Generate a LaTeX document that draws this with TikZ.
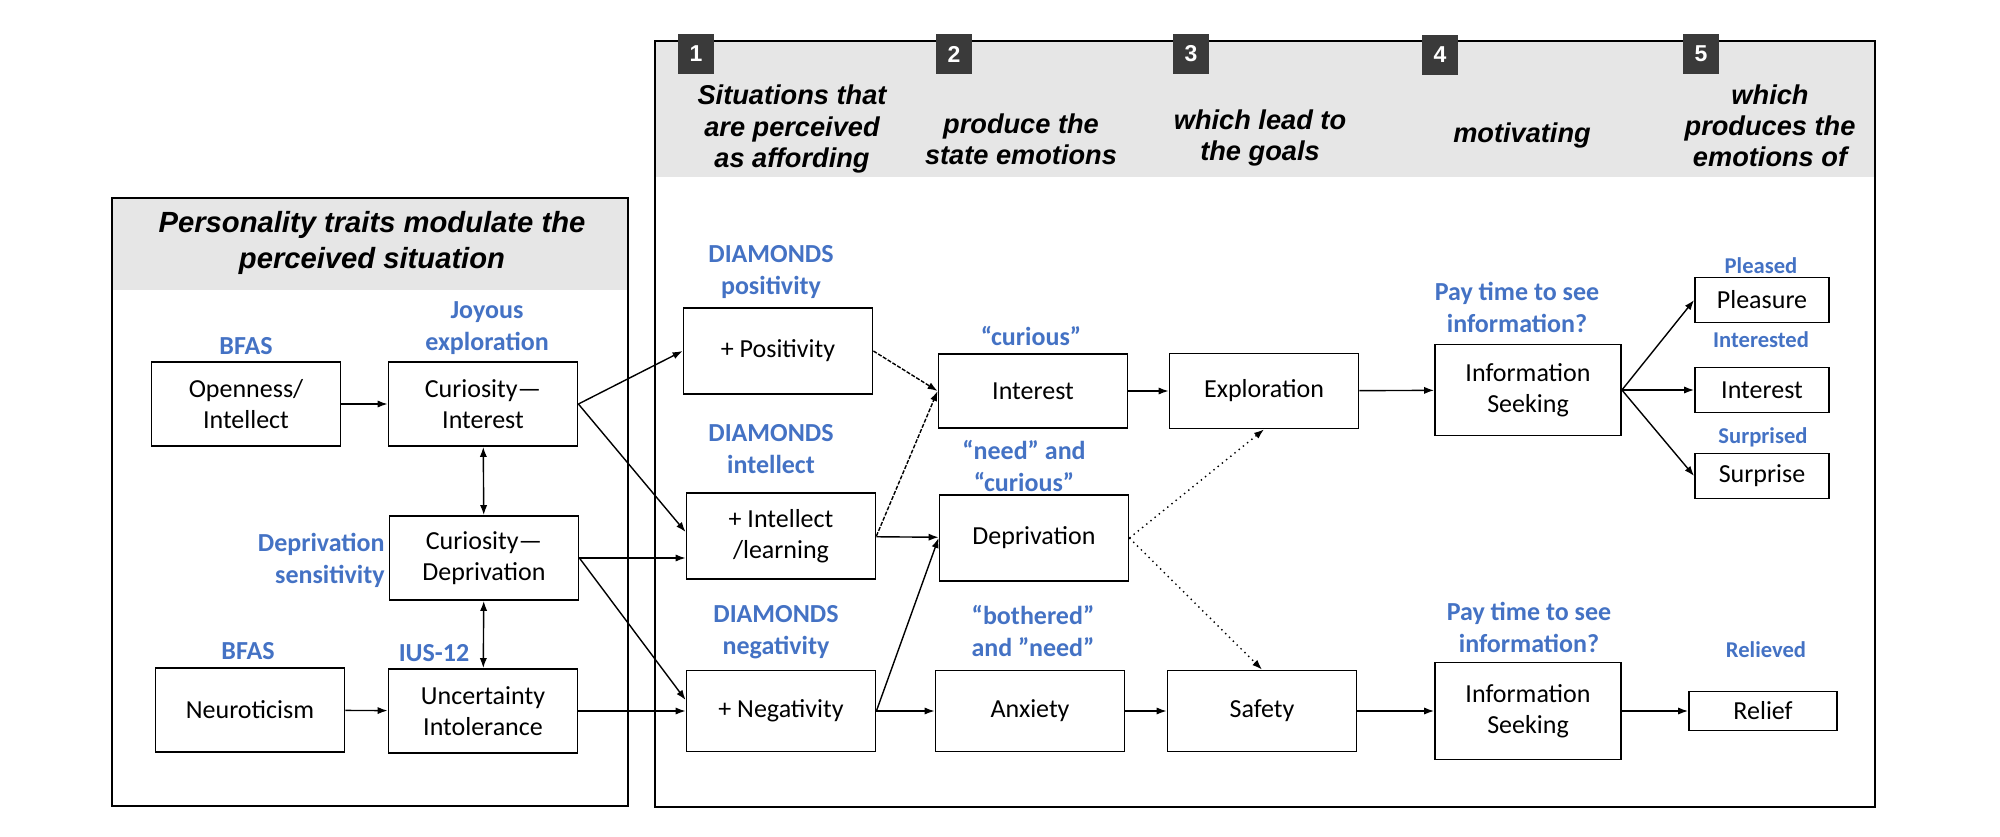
\documentclass[tikz,border=0pt]{standalone}
\usepackage{fontspec}
\setmainfont{Carlito}
\newfontfamily\headfont{Liberation Sans}
\usepackage{tikz}
\usetikzlibrary{arrows.meta, positioning, calc}
\definecolor{LabelBlue}{RGB}{68, 114, 196}
\definecolor{HeadGray}{RGB}{230, 230, 230}
\definecolor{BadgeGray}{RGB}{58, 58, 58}

\begin{document}
\begin{tikzpicture}[x=0.5pt, y=-0.5pt,
    box/.style={
      rectangle, draw=black, line width=0.9pt, fill=white,
      inner sep=0pt, minimum width=94.5pt, minimum height=42pt,
      align=center, font=\fontsize{13}{15.5}\selectfont
    },
    smallbox/.style={box, minimum width=67pt, minimum height=22.5pt},
    lbl/.style={text=LabelBlue, align=center, inner sep=0pt,
      font=\fontsize{13}{16}\selectfont\bfseries},
    smalllbl/.style={lbl, font=\fontsize{11.3}{13}\selectfont\bfseries},
    hd/.style={align=center, inner sep=0pt,
      font=\headfont\fontsize{13.6}{15.6}\selectfont\bfseries\itshape},
    badge/.style={rectangle, fill=BadgeGray, text=white, inner sep=0pt,
      minimum width=18pt, minimum height=20pt,
      font=\headfont\fontsize{11.5}{12}\selectfont\bfseries},
    panel/.style={draw=black, line width=0.9pt},
    arr/.style={-{Latex[length=5pt, width=3.6pt]}, line width=0.7pt},
    arrboth/.style={{Latex[length=5pt, width=3.6pt]}-{Latex[length=5pt, width=3.6pt]}, line width=0.7pt},
    dsh/.style={dash pattern=on 2pt off 0.8pt},
    dots/.style={dotted}
  ]
    \useasboundingbox (0,0) rectangle (2000,836);

    % left panel
    \fill[HeadGray] (112,198) rectangle (628,290);
    \draw[panel] (112,198) rectangle (628,806);
    \node[hd, font=\headfont\fontsize{14.6}{18}\selectfont\bfseries\itshape] (title) at (372,243)
      {Personality traits modulate the\\perceived situation};

    % right panel
    \fill[HeadGray] (655,41) rectangle (1875,177);
    \draw[panel] (655,41) rectangle (1875,807);

    \node[badge] (b1) at (696,54)  {1};
    \node[badge] (b2) at (954,54)  {2};
    \node[badge] (b3) at (1191,54) {3};
    \node[badge] (b4) at (1440,55) {4};
    \node[badge] (b5) at (1701,54) {5};

    \node[hd] (h1) at (792,129)  {Situations that\\are perceived\\as affording};
    \node[hd] (h2) at (1021,139) {produce the\\state emotions};
    \node[hd] (h3) at (1260,138) {which lead to\\the goals};
    \node[hd] (h4) at (1522,135) {motivating};
    \node[hd] (h5) at (1770,126) {which\\produces the\\emotions of};

    % traits
    \node[box] (open)   at (246,404) {Openness/\\Intellect};
    \node[box] (curint) at (483,404) {Curiosity—\\Interest};
    \node[box] (curdep) at (484,558) {Curiosity—\\Deprivation};
    \node[box] (neuro)  at (250,710) {Neuroticism};
    \node[box] (unc)    at (483,711) {Uncertainty\\Intolerance};

    \node[lbl] (lopen)   at (246,346) {BFAS};
    \node[lbl] (lcurint) at (487,328) {Joyous\\exploration};
    \node[lbl, align=right, anchor=east] (lcurdep) at (385,560) {Deprivation\\sensitivity};
    \node[lbl] (lneuro)  at (248,651) {BFAS};
    \node[lbl] (lunc)    at (434,653) {IUS-12};

    % situations
    \node[box, minimum height=43pt]   (pos)   at (778,351) {+ Positivity};
    \node[box, minimum height=43pt]   (intel) at (781,536) {+ Intellect\\/learning};
    \node[box, minimum height=40.5pt] (neg)   at (781,711) {+ Negativity};

    \node[lbl] (lpos)   at (771,272) {DIAMONDS\\positivity};
    \node[lbl] (lintel) at (771,449) {DIAMONDS\\intellect};
    \node[lbl] (lneg)   at (776,632) {DIAMONDS\\negativity};

    % state emotions
    \node[box, minimum height=37pt]   (intr) at (1033,391) {Interest};
    \node[box, minimum height=43pt]   (depr) at (1034,538) {Deprivation};
    \node[box, minimum height=40.5pt] (anx)  at (1030,711) {Anxiety};

    \node[lbl] (lintr) at (1031,336) {“curious”};
    \node[lbl] (ldepr) at (1024,466) {“need” and\\“curious”};
    \node[lbl] (lanx)  at (1033,631) {“bothered”\\and ”need”};

    % goals
    \node[box, minimum height=37.5pt] (expl) at (1264,391) {Exploration};
    \node[box, minimum height=40.5pt] (safe) at (1262,711) {Safety};

    % motivating
    \node[box, minimum width=93pt, minimum height=45.5pt] (info)  at (1528,390) {Information\\Seeking};
    \node[box, minimum width=93pt, minimum height=48.5pt] (infob) at (1528,711) {Information\\Seeking};

    \node[lbl] (linfo)  at (1517,307) {Pay time to see\\information?};
    \node[lbl] (linfob) at (1529,627) {Pay time to see\\information?};

    % outcome emotions
    \node[smallbox] (plea)  at (1762,300) {Pleasure};
    \node[smallbox] (intrb) at (1762,390) {Interest};
    \node[smallbox] (surp)  at (1762,476) {Surprise};
    \node[smallbox, minimum width=74pt, minimum height=19.5pt] (rel) at (1763,711) {Relief};

    \node[smalllbl] (lplea)  at (1761,266) {Pleased};
    \node[smalllbl] (lintrb) at (1761,340) {Interested};
    \node[smalllbl] (lsurp)  at (1763,437) {Surprised};
    \node[smalllbl] (lrel)   at (1766,650) {Relieved};

    % connectors
    \draw[arr] (open) -- (curint);
    \draw[arrboth] (curint) -- (curdep);
    \draw[arrboth] (curdep) -- (unc);
    \draw[arr] (neuro) -- (unc);

    \draw[arr] (curint.east) -- (pos.west);
    \draw[arr] (curint.east) -- ($(intel.west)+(0,-4)$);
    \draw[arr] (curdep.east) -- (curdep.east -| intel.west);
    \draw[arr] (curdep.east) -- ($(neg.west)+(0,-11)$);
    \draw[arr] (unc) -- (neg);

    \draw[arr, dsh] (pos.east) -- (intr.west);
    \draw[arr, dsh] (intel.east) -- (intr.west);
    \draw[arr] (intel) -- (depr);
    \draw[arr] (neg.east) -- (depr.west);
    \draw[arr] (neg) -- (anx);

    \draw[arr] (intr) -- (expl);
    \draw[arr, dots] (depr.east) -- (expl.south);
    \draw[arr, dots] (depr.east) -- (safe.north);
    \draw[arr] (anx) -- (safe);

    \draw[arr] (expl) -- (info);
    \draw[arr] (safe) -- (infob);

    \draw[arr] (info.east) -- (plea.west);
    \draw[arr] (info) -- (intrb);
    \draw[arr] (info.east) -- (surp.west);
    \draw[arr] (infob) -- (rel);
\end{tikzpicture}
\end{document}
